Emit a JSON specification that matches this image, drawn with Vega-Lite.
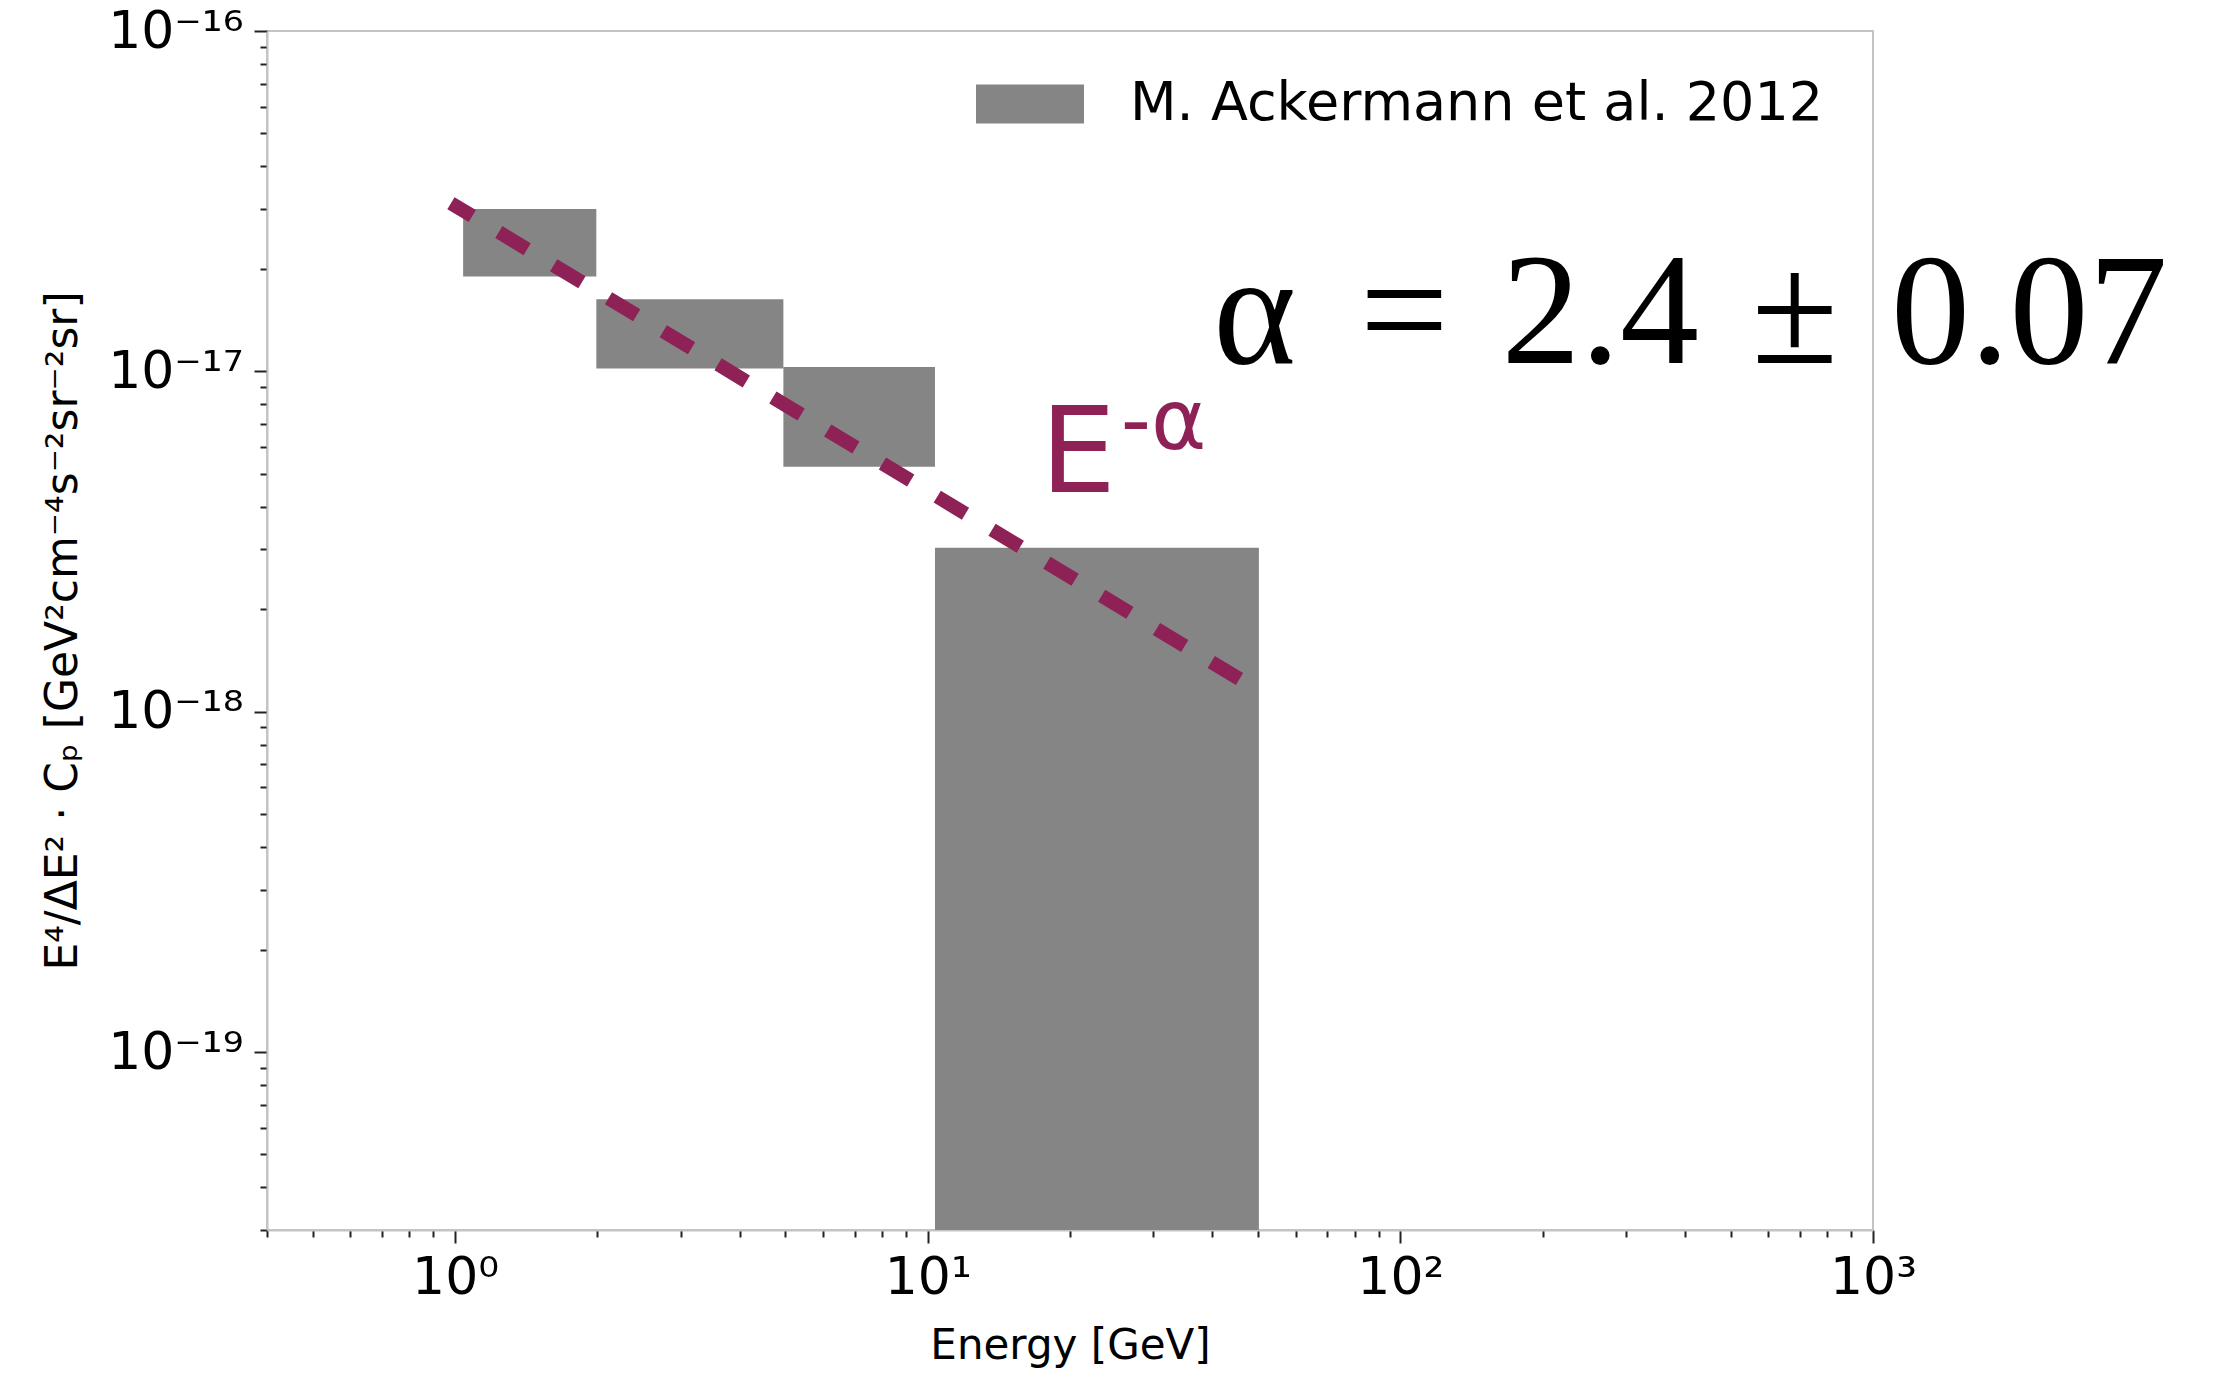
{
  "$schema": "https://vega.github.io/schema/vega-lite/v6.json",
  "width": 1606,
  "height": 1199,
  "autosize": {"type": "none"},
  "padding": {"left": 267, "top": 31, "right": 365, "bottom": 148},
  "background": "white",
  "config": {
    "view": {"stroke": "#c4c4c4", "strokeWidth": 2},
    "font": "DejaVu Sans"
  },
  "datasets": {
    "boxes": [
      {"e1": 1.04, "e2": 1.99, "c1": 1.9e-17, "c2": 3.0e-17, "source": "M. Ackermann et al. 2012"},
      {"e1": 1.99, "e2": 4.95, "c1": 1.02e-17, "c2": 1.63e-17, "source": "M. Ackermann et al. 2012"},
      {"e1": 4.95, "e2": 10.36, "c1": 5.24e-18, "c2": 1.03e-17, "source": "M. Ackermann et al. 2012"},
      {"e1": 10.36, "e2": 50.2, "c1": 3e-20, "c2": 3.03e-18, "source": "M. Ackermann et al. 2012"}
    ],
    "fit": [
      {"e": 0.98, "c": 3.12e-17},
      {"e": 46.0, "c": 1.24e-18}
    ],
    "labels": [
      {"e": 17.3, "c": 4.42e-18, "t": "E"},
      {"e": 25.6, "c": 5.9e-18, "t": "-α"}
    ],
    "formula": [
      {"e": 40.2, "c": 1.06e-17, "t": "α"},
      {"e": 82.0, "c": 1.06e-17, "t": "=\u20042.4\u2004±\u20040.07"}
    ]
  },
  "layer": [
    {
      "data": {"name": "boxes"},
      "mark": {"type": "rect", "clip": true, "opacity": 1},
      "encoding": {
        "x": {
          "field": "e1", "type": "quantitative",
          "scale": {"type": "log", "domain": [0.4, 1000], "nice": false, "zero": false},
          "axis": {
            "values": [0.4,0.5,0.6,0.7,0.8,0.9,1,2,3,4,5,6,7,8,9,10,20,30,40,50,60,70,80,90,100,200,300,400,500,600,700,800,900,1000],
            "labelExpr": "abs(log(datum.value)/LN10 - round(log(datum.value)/LN10)) < 0.001 ? '10' + ['⁰','¹','²','³'][round(log(datum.value)/LN10)] : ''",
            "tickSize": {"condition": {"test": "abs(log(datum.value)/LN10 - round(log(datum.value)/LN10)) < 0.001", "value": 13}, "value": 7},
            "labelFontSize": 52, "labelFont": "DejaVu Sans", "labelColor": "#000000",
            "labelPadding": 9, "labelFlush": false, "labelOverlap": false,
            "title": "Energy [GeV]", "titleFontSize": 42, "titleFont": "DejaVu Sans",
            "titleFontWeight": "normal", "titleColor": "#000000", "titlePadding": 22,
            "grid": false, "domainColor": "#c4c4c4", "domainWidth": 2,
            "tickColor": "#222222", "tickWidth": 2
          }
        },
        "x2": {"field": "e2"},
        "y": {
          "field": "c1", "type": "quantitative",
          "scale": {"type": "log", "domain": [3e-20, 1e-16], "nice": false, "zero": false},
          "axis": {
            "values": [3e-20,4e-20,5e-20,6e-20,7e-20,8e-20,9e-20,1e-19,2e-19,3e-19,4e-19,5e-19,6e-19,7e-19,8e-19,9e-19,1e-18,2e-18,3e-18,4e-18,5e-18,6e-18,7e-18,8e-18,9e-18,1e-17,2e-17,3e-17,4e-17,5e-17,6e-17,7e-17,8e-17,9e-17,1e-16],
            "labelExpr": "abs(log(datum.value)/LN10 - round(log(datum.value)/LN10)) < 0.001 ? '10⁻¹' + ['⁰','¹','²','³','⁴','⁵','⁶','⁷','⁸','⁹'][-round(log(datum.value)/LN10) - 10] : ''",
            "tickSize": {"condition": {"test": "abs(log(datum.value)/LN10 - round(log(datum.value)/LN10)) < 0.001", "value": 13}, "value": 7},
            "labelFontSize": 52, "labelFont": "DejaVu Sans", "labelColor": "#000000",
            "labelPadding": 11, "labelFlush": false, "labelOverlap": false,
            "title": "E⁴/ΔE² · Cₚ [GeV²cm⁻⁴s⁻²sr⁻²sr]", "titleFontSize": 44, "titleFont": "DejaVu Sans",
            "titleFontWeight": "normal", "titleColor": "#000000", "titlePadding": 22,
            "grid": false, "domainColor": "#c4c4c4", "domainWidth": 2,
            "tickColor": "#222222", "tickWidth": 2
          }
        },
        "y2": {"field": "c2"},
        "color": {
          "field": "source", "type": "nominal",
          "scale": {"range": ["#858585"]},
          "legend": {
            "title": null,
            "orient": "none",
            "legendX": 709,
            "legendY": 19,
            "padding": 0,
            "symbolType": "M-1,-0.36H1V0.36H-1Z",
            "symbolSize": 11664,
            "symbolStrokeWidth": 0,
            "symbolOpacity": 1,
            "labelFontSize": 54,
            "labelFont": "DejaVu Sans",
            "labelColor": "#000000",
            "labelOffset": 46,
            "labelLimit": 1000
          }
        }
      }
    },
    {
      "data": {"name": "fit"},
      "mark": {"type": "line", "color": "#8e2156", "strokeWidth": 14, "strokeDash": [33, 31], "strokeDashOffset": 8, "strokeCap": "butt", "clip": true},
      "encoding": {
        "x": {"field": "e", "type": "quantitative"},
        "y": {"field": "c", "type": "quantitative"}
      }
    },
    {
      "data": {"name": "labels"},
      "mark": {"type": "text", "align": "left", "baseline": "alphabetic", "color": "#8e2156", "font": "DejaVu Sans"},
      "encoding": {
        "x": {"field": "e", "type": "quantitative"},
        "y": {"field": "c", "type": "quantitative"},
        "text": {"field": "t"},
        "size": {"condition": {"test": "datum.t == 'E'", "value": 120}, "value": 84}
      }
    },
    {
      "data": {"name": "formula"},
      "mark": {"type": "text", "align": "left", "baseline": "alphabetic", "color": "#000000", "font": "Liberation Serif", "fontSize": 158},
      "encoding": {
        "x": {"field": "e", "type": "quantitative"},
        "y": {"field": "c", "type": "quantitative"},
        "text": {"field": "t"},
        "fontStyle": {"condition": {"test": "datum.t == 'α'", "value": "italic"}, "value": "normal"}
      }
    }
  ]
}
